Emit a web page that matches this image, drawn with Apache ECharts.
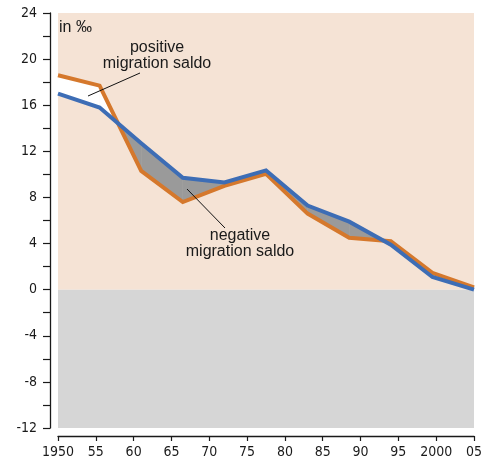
<!DOCTYPE html>
<html>
<head>
<meta charset="utf-8">
<script src="https://cdn.jsdelivr.net/npm/echarts@6/dist/echarts.min.js"></script>
<style>
  html, body { margin: 0; padding: 0; background: #fff; }
  #chart { width: 490px; height: 460px; }
</style>
</head>
<body>
<div id="chart"></div>
<script>
// positions of the line vertices (years)
const years = [1950, 1955.5, 1961, 1966.5, 1972, 1977.5, 1983, 1988.5, 1994, 1999.5, 2005]
// orange line, in per mille
const orangeRate = [18.6, 17.7, 10.3, 7.6, 9.0, 10.05, 6.6, 4.5, 4.2, 1.45, 0.2]
// blue line, in per mille
const blueRate = [17.0, 15.8, 12.7, 9.7, 9.3, 10.35, 7.3, 5.9, 3.9, 1.1, 0]
// x tick labels, one per 5 years from 1950
const xTickLabels = ['1950', '55', '60', '65', '70', '75', '80', '85', '90', '95', '2000', '05']

const axisFont = '"DejaVu Sans Condensed", "Liberation Sans Narrow", sans-serif'
const textFont = '"Liberation Sans", Arial, sans-serif'

const chart = echarts.init(document.getElementById('chart'))

// one item per segment between two neighbouring vertices
const segments = []
for (let i = 0; i < years.length - 1; i++) {
  segments.push([years[i], orangeRate[i], blueRate[i], years[i + 1], orangeRate[i + 1], blueRate[i + 1]])
}

function renderGap(params, api) {
  const x0 = api.value(0)
  const o0 = api.value(1)
  const b0 = api.value(2)
  const x1 = api.value(3)
  const o1 = api.value(4)
  const b1 = api.value(5)
  const d0 = o0 - b0
  const d1 = o1 - b1
  const fillOf = d => (d >= 0 ? '#ffffff' : '#9a9a9a')
  const poly = (pts, color) => ({
    type: 'polygon',
    shape: { points: pts.map(p => api.coord(p)) },
    style: { fill: color, stroke: color, lineWidth: 0.5 }
  })
  const children = []
  if (d0 * d1 >= 0) {
    children.push(poly([[x0, o0], [x1, o1], [x1, b1], [x0, b0]], fillOf(d0 + d1)))
  } else {
    // lines cross inside this segment
    const t = d0 / (d0 - d1)
    const xc = x0 + t * (x1 - x0)
    const yc = o0 + t * (o1 - o0)
    children.push(poly([[x0, o0], [xc, yc], [x0, b0]], fillOf(d0)))
    children.push(poly([[xc, yc], [x1, o1], [x1, b1]], fillOf(d1)))
  }
  return { type: 'group', children: children }
}

const option = {
  animation: false,
  grid: {
    left: 58,
    right: 16,
    top: 13,
    bottom: 32
  },
  xAxis: {
    type: 'value',
    min: 1950,
    max: 2005,
    interval: 5,
    offset: 8,
    splitLine: { show: false },
    axisLine: { show: true, onZero: false, lineStyle: { color: '#1a1a1a', width: 1.3 }},
    axisTick: { show: true, length: 5, lineStyle: { color: '#1a1a1a', width: 1.2 }},
    axisLabel: {
      margin: 9,
      color: '#1a1a1a',
      fontSize: 14,
      fontFamily: axisFont,
      formatter: v => xTickLabels[Math.round((v - 1950) / 5)]
    }
  },
  yAxis: {
    type: 'value',
    min: -12,
    max: 24,
    interval: 4,
    offset: 8,
    splitLine: { show: false },
    axisLine: { show: true, onZero: false, lineStyle: { color: '#1a1a1a', width: 1.3 }},
    axisTick: { show: true, length: 7, lineStyle: { color: '#1a1a1a', width: 1.2 }},
    minorTick: { show: true, splitNumber: 2, length: 7, lineStyle: { color: '#1a1a1a', width: 1.2 }},
    minorSplitLine: { show: false },
    axisLabel: {
      margin: 13,
      color: '#1a1a1a',
      fontSize: 14,
      fontFamily: axisFont
    }
  },
  series: [
    {
      type: 'custom',
      z: 2,
      silent: true,
      renderItem: renderGap,
      encode: { x: [0, 3], y: [1, 2, 4, 5] },
      data: segments
    },
    {
      name: 'orange',
      type: 'line',
      z: 3,
      silent: true,
      symbol: 'none',
      data: years.map((y, i) => [y, orangeRate[i]]),
      lineStyle: { color: '#d5782c', width: 4, join: 'miter' },
      markArea: {
        silent: true,
        z: 1,
        data: [
          [{ yAxis: 0, itemStyle: { color: '#f5e3d5' }}, { yAxis: 24 }],
          [{ yAxis: -12, itemStyle: { color: '#d6d6d6' }}, { yAxis: 0 }]
        ]
      }
    },
    {
      name: 'blue',
      type: 'line',
      z: 4,
      silent: true,
      symbol: 'none',
      data: years.map((y, i) => [y, blueRate[i]]),
      lineStyle: { color: '#3d6db5', width: 4, join: 'miter' }
    }
  ],
  graphic: [
    {
      type: 'text',
      z: 10,
      style: { text: 'in ‰', x: 59, y: 28, fill: '#1a1a1a', font: '16px ' + textFont, verticalAlign: 'middle' }
    },
    {
      type: 'text',
      z: 10,
      style: {
        text: 'positive\nmigration saldo',
        x: 157,
        y: 56,
        fill: '#1a1a1a',
        font: '16px ' + textFont,
        lineHeight: 16,
        align: 'center',
        verticalAlign: 'middle'
      }
    },
    {
      type: 'line',
      z: 10,
      shape: { x1: 88, y1: 96, x2: 140, y2: 73 },
      style: { stroke: '#111', lineWidth: 1 }
    },
    {
      type: 'text',
      z: 10,
      style: {
        text: 'negative\nmigration saldo',
        x: 240,
        y: 244,
        fill: '#1a1a1a',
        font: '16px ' + textFont,
        lineHeight: 16,
        align: 'center',
        verticalAlign: 'middle'
      }
    },
    {
      type: 'line',
      z: 10,
      shape: { x1: 187, y1: 189, x2: 225, y2: 228 },
      style: { stroke: '#111', lineWidth: 1 }
    }
  ]
}

chart.setOption(option)
</script>
</body>
</html>
